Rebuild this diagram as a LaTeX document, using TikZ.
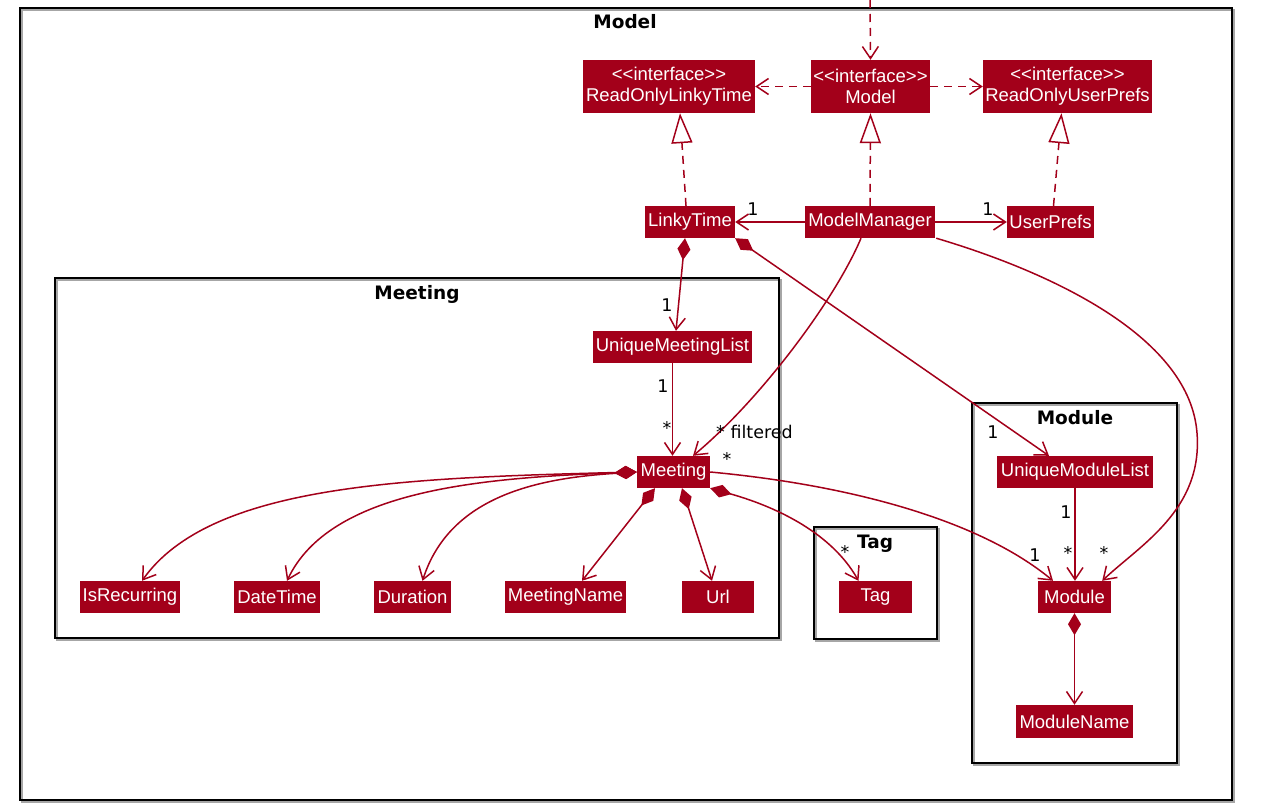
\documentclass[tikz,border=0pt]{standalone}
\usepackage{fontspec}
\setmainfont{Liberation Sans}
\newfontfamily\dejavu{DejaVu Sans}
\usetikzlibrary{arrows.meta}
\definecolor{umlred}{HTML}{A3001A}
\tikzset{
  cls/.style={fill=umlred, draw=none, text=white, inner sep=0pt, align=center,
    font=\fontsize{18.5}{21}\selectfont},
  lbl/.style={font=\dejavu\fontsize{17.5}{20}\selectfont, text=black, inner sep=0pt},
  ttl/.style={font=\dejavu\bfseries\fontsize{18.5}{22}\selectfont, text=black, inner sep=0pt},
  frame/.style={draw=black, line width=1.6pt},
  fshadow/.style={draw=black!35, line width=1.6pt},
  conn/.style={draw=umlred, line width=1.5pt},
  tipb/.style={},
  assoc/.style={conn, -{Straight Barb[length=12pt,width=16pt]}},
  comp/.style={conn, {Diamond[length=22pt,width=13pt]}-{Straight Barb[length=12pt,width=16pt]}},
  dep/.style={conn, dash pattern=on 8pt off 6pt, -{Straight Barb[length=12pt,width=16pt]}},
  real/.style={conn, dash pattern=on 8pt off 6pt, -{Triangle[open,length=30pt,width=21pt,fill=white]}}
}
\begin{document}
\begin{tikzpicture}[x=1pt,y=-1pt]
\useasboundingbox (0,0) rectangle (1263,808);
\fill[white] (0,0) rectangle (1263,808);
% frames
\draw[fshadow] (22,10) rectangle (1234,802);
\draw[frame] (20,8) rectangle (1232,800);
\node[ttl] (tmodel) at (625,22) {Model};
\draw[fshadow] (57,280) rectangle (781,640);
\draw[frame] (55,278) rectangle (779,638);
\node[ttl] (tmeeting) at (417,294) {Meeting};
\draw[fshadow] (816,529) rectangle (939,641);
\draw[frame] (814,527) rectangle (937,639);
\node[ttl] (ttag) at (875,544) {Tag};
\draw[fshadow] (974,405) rectangle (1179,765);
\draw[frame] (972,403) rectangle (1177,763);
\node[ttl] (tmodule) at (1075,418) {Module};
% classes
\node[cls, minimum width=172, minimum height=53] (rolt) at (669,86.5) {<{}<interface>{}>\\ReadOnlyLinkyTime};
\node[cls, minimum width=119, minimum height=53] (model) at (870.5,86.5) {<{}<interface>{}>\\Model};
\node[cls, minimum width=169, minimum height=53] (roup) at (1067.5,86.5) {<{}<interface>{}>\\ReadOnlyUserPrefs};
\node[cls, minimum width=90, minimum height=32] (lt) at (690,222) {LinkyTime};
\node[cls, minimum width=130, minimum height=32] (mm) at (870,222) {ModelManager};
\node[cls, minimum width=87, minimum height=32] (up) at (1050.5,222) {UserPrefs};
\node[cls, minimum width=159, minimum height=32] (uml) at (672.5,347) {UniqueMeetingList};
\node[cls, minimum width=73, minimum height=32] (mtg) at (673.5,472) {Meeting};
\node[cls, minimum width=100, minimum height=32] (isr) at (130,597) {IsRecurring};
\node[cls, minimum width=86, minimum height=32] (dt) at (277,597) {DateTime};
\node[cls, minimum width=77, minimum height=32] (dur) at (412.5,597) {Duration};
\node[cls, minimum width=121, minimum height=32] (mn) at (565.5,597) {MeetingName};
\node[cls, minimum width=72, minimum height=32] (url) at (718,597) {Url};
\node[cls, minimum width=73, minimum height=32] (tag) at (875.5,597) {Tag};
\node[cls, minimum width=156, minimum height=32] (umodl) at (1075,472) {UniqueModuleList};
\node[cls, minimum width=73, minimum height=32] (mod) at (1074.5,597) {Module};
\node[cls, minimum width=117, minimum height=33] (modn) at (1074.5,721.5) {ModuleName};
% top incoming dependency
\coordinate (topin) at (870,0);
\draw[dep] (topin) -- (model.north);
\draw[dep] (model.west) -- (rolt.east);
\draw[dep] (model.east) -- (roup.west);
% realizations
\draw[real] ([xshift=-4]lt.north) -- ([xshift=11]rolt.south);
\draw[real] (mm.north) -- (model.south);
\draw[real] ([xshift=3]up.north) -- ([xshift=-6]roup.south);
% associations from ModelManager
\draw[assoc] (mm.west) -- (lt.east);
\node[lbl] (l1) at (753,209) {1};
\draw[assoc] (mm.east) -- (up.west);
\node[lbl] (l2) at (988,209) {1};
\draw[assoc] ([xshift=-9]mm.south) .. controls (835,300) and (760,400) .. ([xshift=19.5]mtg.north);
\node[lbl, anchor=west] (l3) at (716,432) {* filtered};
\draw[assoc] ([xshift=1]mm.south east) .. controls (1060,275) and (1190,340) .. (1197,433)
  .. controls (1203,510) and (1140,545) .. ([xshift=-9]mod.north east);
\node[lbl] (l4) at (1104,553) {*};
% LinkyTime compositions
\draw[comp] ([xshift=-5]lt.south) -- ([xshift=3.5]uml.north);
\node[lbl] (l5) at (667,305) {1};
\draw[comp] (lt.south east) -- ([xshift=-26]umodl.north);
\node[lbl] (l6) at (993,432) {1};
% meeting list
\draw[assoc] (uml.south) -- (uml.south |- mtg.north);
\node[lbl] (l7) at (663,386) {1};
\node[lbl] (l8) at (667,428) {*};
% module list
\draw[assoc] (umodl.south) -- (umodl.south |- mod.north);
\node[lbl] (l9) at (1066,512) {1};
\node[lbl] (l10) at (1068,553) {*};
% Meeting to Module
\draw[assoc] (mtg.east) .. controls (850,485) and (980,520) .. ([xshift=-21.5]mod.north);
\node[lbl] (l11) at (727,459) {*};
\node[lbl] (l12) at (1035,555) {1};
% Meeting to Tag
\draw[comp] (mtg.south east) .. controls (770,505) and (830,530) .. ([xshift=-17]tag.north);
\node[lbl] (l13) at (845,552) {*};
% Meeting attributes
\draw[comp] (mtg.west) .. controls (400,478) and (210,485) .. ([xshift=12]isr.north);
\draw[comp] (mtg.west) .. controls (480,478) and (330,490) .. ([xshift=10]dt.north);
\draw[comp] (mtg.west) .. controls (540,478) and (450,495) .. ([xshift=10]dur.north);
\draw[comp] ([xshift=-18.5]mtg.south) -- ([xshift=16.5]mn.north);
\draw[comp] ([xshift=8.5]mtg.south) -- ([xshift=-6]url.north);
% Module to ModuleName
\draw[comp] (mod.south) -- (modn.north);
\end{tikzpicture}
\end{document}
